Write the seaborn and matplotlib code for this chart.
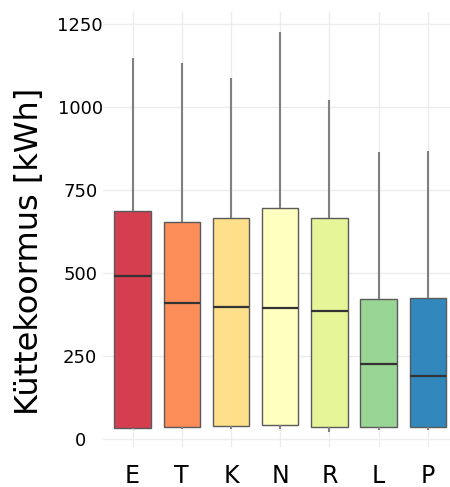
import pandas as pd
import seaborn as sns
import matplotlib.pyplot as plt

# Kategooriad ja karpdiagrammi väärtused (loetud pildilt)
kategooriad = ["E", "T", "K", "N", "R", "L", "P"]
alumine_vunts = [30, 28, 28, 30, 19, 27, 27]
q1 = [33, 34, 37, 40, 35, 34, 34]
mediaan = [491, 410, 397, 394, 386, 226, 188]
q3 = [686, 653, 665, 696, 666, 421, 424]
ulemine_vunts = [1148, 1133, 1086, 1224, 1020, 863, 867]
y_tickid = [0, 250, 500, 750, 1000, 1250]

# ColorBrewer Spectral, 7 klassi
varvid = ["#d53e4f", "#fc8d59", "#fee08b", "#ffffbf", "#e6f598", "#99d594", "#3288bd"]

# Viis punkti rühma kohta -> kvartiilid tulevad täpselt samad
read = []
for i, k in enumerate(kategooriad):
    for v in (alumine_vunts[i], q1[i], mediaan[i], q3[i], ulemine_vunts[i]):
        read.append({"kategooria": k, "koormus": v})
df = pd.DataFrame(read)

sns.set_style("white")
plt.rcParams['font.family'] = ['DejaVu Sans']
plt.rcParams['text.color'] = 'black'
plt.rcParams['xtick.color'] = 'black'
plt.rcParams['ytick.color'] = 'black'
plt.rcParams['axes.labelcolor'] = 'black'

fig = plt.figure(figsize=(4.5, 4.87), dpi=100)
ax = fig.add_axes([0.229, 0.082, 0.771, 0.893])

sns.boxplot(data=df, x="kategooria", y="koormus", hue="kategooria",
            order=kategooriad, palette=varvid, saturation=1, legend=False,
            width=0.74, whis=float("inf"), showcaps=False, ax=ax,
            boxprops=dict(edgecolor="#5a5a5a", linewidth=1.0),
            medianprops=dict(color="#333333", linewidth=1.6),
            whiskerprops=dict(color="#808080", linewidth=1.5))

ax.set_xlim(-0.6, 6.45)
ax.set_ylim(-25, 1285)
ax.set_yticks(y_tickid)
ax.set_yticklabels([str(t) for t in y_tickid], fontsize=13, ha="center")
ax.tick_params(axis="y", length=0, pad=16.5)
ax.tick_params(axis="x", length=0, pad=12, labelsize=17)
ax.grid(True, color="#ececec", linewidth=1.0)
ax.set_axisbelow(True)
for s in ax.spines.values():
    s.set_visible(False)

ax.set_xlabel("")
ax.set_ylabel("Küttekoormus [kWh]", fontsize=23)
ax.yaxis.set_label_coords(-0.167, 0.45)

fig.savefig("out.png", dpi=100)
